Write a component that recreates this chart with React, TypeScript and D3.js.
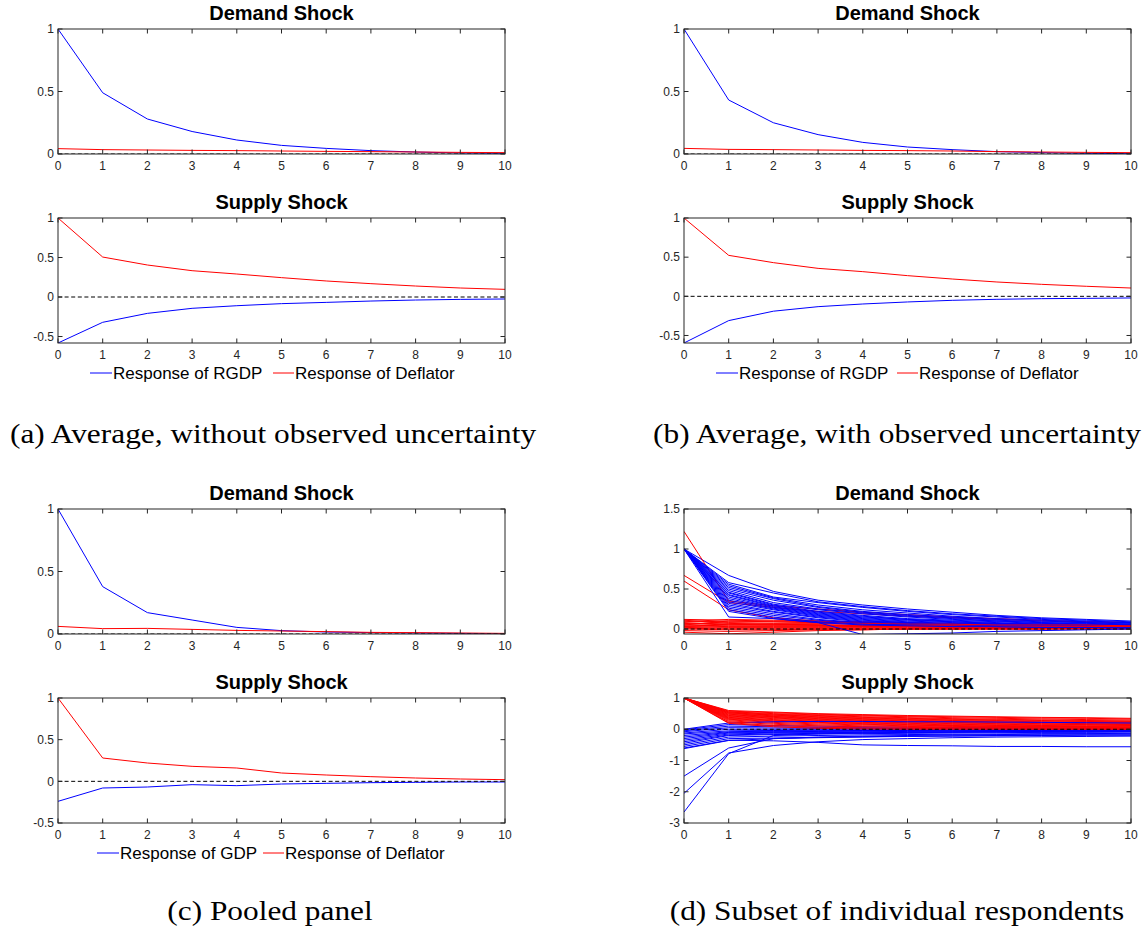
import React from 'react'
import * as d3 from 'd3'

// horizon (quarters after shock)
const horizons = [0, 1, 2, 3, 4, 5, 6, 7, 8, 9, 10]

// (a) average, without observed uncertainty
const avgDemandRgdp = [1, 0.49, 0.28, 0.18, 0.112, 0.069, 0.045, 0.027, 0.016, 0.008, 0.005]
const avgDemandDeflator = [0.043, 0.035, 0.032, 0.029, 0.027, 0.024, 0.021, 0.019, 0.016, 0.013, 0.011]
const avgSupplyRgdp = [-0.582, -0.32, -0.207, -0.143, -0.11, -0.084, -0.068, -0.051, -0.038, -0.03, -0.025]
const avgSupplyDeflator = [1, 0.506, 0.405, 0.333, 0.291, 0.245, 0.203, 0.169, 0.139, 0.114, 0.097]

// (b) average, with observed uncertainty
const uncDemandRgdp = [1, 0.432, 0.25, 0.155, 0.093, 0.056, 0.035, 0.019, 0.011, 0.005, 0.003]
const uncDemandDeflator = [0.045, 0.037, 0.035, 0.032, 0.029, 0.027, 0.024, 0.019, 0.016, 0.013, 0.011]
const uncSupplyRgdp = [-0.596, -0.31, -0.19, -0.132, -0.098, -0.072, -0.051, -0.038, -0.03, -0.026, -0.021]
const uncSupplyDeflator = [1, 0.523, 0.43, 0.357, 0.315, 0.264, 0.221, 0.183, 0.153, 0.128, 0.106]

// (c) pooled panel
const poolDemandGdp = [1, 0.379, 0.171, 0.112, 0.053, 0.027, 0.016, 0.011, 0.008, 0.005, 0.003]
const poolDemandDeflator = [0.061, 0.043, 0.045, 0.037, 0.029, 0.024, 0.019, 0.013, 0.011, 0.008, 0.005]
const poolSupplyGdp = [-0.24, -0.08, -0.068, -0.04, -0.052, -0.032, -0.024, -0.016, -0.012, -0.008, -0.008]
const poolSupplyDeflator = [1, 0.28, 0.22, 0.18, 0.16, 0.1, 0.076, 0.056, 0.04, 0.028, 0.02]

// (d) subset of individual respondents
const indivDemandRgdp = [
  [1, 0.67, 0.47, 0.36, 0.3, 0.25, 0.21, 0.17, 0.14, 0.12, 0.1],
  [1, 0.58, 0.45, 0.34, 0.28, 0.23, 0.19, 0.16, 0.13, 0.11, 0.09],
  [1, 0.56, 0.4, 0.33, 0.27, 0.22, 0.18, 0.15, 0.12, 0.1, 0.08],
  [1, 0.54, 0.39, 0.3, 0.24, 0.2, 0.16, 0.13, 0.11, 0.09, 0.08],
  [1, 0.52, 0.38, 0.28, 0.22, 0.18, 0.15, 0.12, 0.1, 0.08, 0.07],
  [1, 0.5, 0.36, 0.27, 0.21, 0.17, 0.14, 0.11, 0.09, 0.08, 0.06],
  [1, 0.48, 0.33, 0.25, 0.2, 0.16, 0.13, 0.1, 0.08, 0.07, 0.06],
  [1, 0.46, 0.31, 0.24, 0.19, 0.15, 0.12, 0.1, 0.08, 0.06, 0.05],
  [1, 0.45, 0.3, 0.22, 0.17, 0.13, 0.11, 0.09, 0.07, 0.06, 0.05],
  [1, 0.43, 0.29, 0.21, 0.16, 0.12, 0.1, 0.08, 0.06, 0.05, 0.04],
  [1, 0.42, 0.28, 0.2, 0.15, 0.12, 0.09, 0.07, 0.06, 0.05, 0.04],
  [1, 0.4, 0.27, 0.19, 0.14, 0.11, 0.09, 0.07, 0.05, 0.04, 0.03],
  [1, 0.38, 0.26, 0.18, 0.13, 0.1, 0.08, 0.06, 0.05, 0.04, 0.03],
  [1, 0.36, 0.25, 0.17, 0.12, 0.09, 0.07, 0.06, 0.05, 0.04, 0.03],
  [1, 0.34, 0.24, 0.16, 0.11, 0.08, 0.06, 0.05, 0.04, 0.03, 0.03],
  [1, 0.32, 0.22, 0.15, 0.1, 0.08, 0.06, 0.05, 0.04, 0.03, 0.02],
  [1, 0.3, 0.21, 0.14, 0.09, 0.07, 0.05, 0.04, 0.03, 0.03, 0.02],
  [1, 0.28, 0.19, 0.12, 0.08, 0.06, 0.05, 0.04, 0.03, 0.02, 0.02],
  [1, 0.26, 0.17, 0.11, 0.07, 0.05, 0.04, 0.03, 0.03, 0.02, 0.02],
  [1, 0.24, 0.15, 0.09, 0.06, 0.05, 0.04, 0.03, 0.02, 0.02, 0.02],
  [1, 0.22, 0.13, 0.08, 0.05, 0.04, 0.03, 0.03, 0.02, 0.02, 0.01],
  [1, 0.15, 0.13, 0.08, -0.07, -0.06, -0.05, -0.03, -0.02, -0.01, 0],
]
const indivDemandDeflator = [
  [1.22, 0.35, 0.29, 0.25, 0.21, 0.18, 0.15, 0.13, 0.11, 0.09, 0.08],
  [0.67, 0.33, 0.27, 0.22, 0.19, 0.16, 0.14, 0.12, 0.1, 0.09, 0.08],
  [0.6, 0.24, 0.14, 0.1, 0.08, 0.07, 0.06, 0.05, 0.05, 0.04, 0.04],
  [0.12, 0.11, 0.1, 0.09, 0.08, 0.07, 0.07, 0.06, 0.06, 0.05, 0.05],
  [0.1, 0.09, 0.09, 0.08, 0.08, 0.07, 0.06, 0.06, 0.05, 0.05, 0.04],
  [0.09, 0.12, 0.11, 0.1, 0.09, 0.08, 0.07, 0.07, 0.06, 0.06, 0.05],
  [0.08, 0.06, 0.06, 0.05, 0.05, 0.05, 0.04, 0.04, 0.04, 0.04, 0.03],
  [0.07, 0.05, 0.05, 0.05, 0.04, 0.04, 0.04, 0.03, 0.03, 0.03, 0.03],
  [0.06, 0.08, 0.07, 0.07, 0.06, 0.06, 0.05, 0.05, 0.05, 0.04, 0.04],
  [0.05, 0.04, 0.04, 0.04, 0.03, 0.03, 0.03, 0.03, 0.03, 0.02, 0.02],
  [0.04, 0.03, 0.03, 0.03, 0.03, 0.03, 0.02, 0.02, 0.02, 0.02, 0.02],
  [0.03, 0.02, 0.02, 0.02, 0.02, 0.02, 0.02, 0.02, 0.02, 0.02, 0.02],
  [0.02, 0.01, 0.01, 0.01, 0.01, 0.01, 0.01, 0.01, 0.01, 0.01, 0.01],
  [0.01, 0, 0, 0, 0, 0, 0, 0, 0, 0, 0],
  [0, -0.01, -0.01, 0, 0, 0, 0, 0, 0, 0, 0],
  [-0.02, -0.03, -0.02, -0.01, -0.01, 0, 0, 0, 0, 0.01, 0.01],
  [-0.04, -0.06, -0.04, -0.02, -0.01, 0, 0, 0.01, 0.01, 0.01, 0.01],
  [0.11, 0.07, 0.06, 0.05, 0.04, 0.04, 0.03, 0.03, 0.03, 0.03, 0.03],
  [0.05, 0.1, 0.09, 0.08, 0.07, 0.06, 0.06, 0.05, 0.05, 0.05, 0.04],
  [0.03, 0.06, 0.05, 0.05, 0.04, 0.04, 0.04, 0.03, 0.03, 0.03, 0.03],
]
const indivSupplyRgdp = [
  [-0.02, 0.15, 0.12, 0.1, 0.08, 0.07, 0.06, 0.05, 0.04, 0.03, 0.03],
  [-0.05, 0.1, 0.08, 0.06, 0.05, 0.04, 0.04, 0.03, 0.03, 0.02, 0.02],
  [-0.08, 0.05, 0.04, 0.03, 0.03, 0.02, 0.02, 0.02, 0.01, 0.01, 0.01],
  [-0.12, 0, 0, 0, 0, 0, 0, 0, 0, 0, 0],
  [-0.15, -0.05, -0.04, -0.03, -0.03, -0.02, -0.02, -0.02, -0.01, -0.01, -0.01],
  [-0.2, -0.08, -0.06, -0.05, -0.04, -0.04, -0.03, -0.03, -0.02, -0.02, -0.02],
  [-0.25, -0.1, -0.08, -0.07, -0.06, -0.05, -0.05, -0.04, -0.04, -0.03, -0.03],
  [-0.3, -0.12, -0.1, -0.09, -0.08, -0.07, -0.06, -0.06, -0.05, -0.05, -0.05],
  [-0.35, -0.15, -0.12, -0.11, -0.1, -0.09, -0.08, -0.07, -0.07, -0.06, -0.06],
  [-0.4, -0.18, -0.15, -0.13, -0.12, -0.11, -0.1, -0.09, -0.09, -0.08, -0.08],
  [-0.45, -0.2, -0.17, -0.15, -0.14, -0.13, -0.12, -0.11, -0.1, -0.1, -0.09],
  [-0.5, -0.25, -0.22, -0.2, -0.18, -0.17, -0.16, -0.15, -0.14, -0.14, -0.13],
  [-0.55, -0.3, -0.28, -0.26, -0.24, -0.22, -0.21, -0.2, -0.19, -0.18, -0.18],
  [-0.6, -0.35, -0.37, -0.42, -0.5, -0.52, -0.53, -0.55, -0.55, -0.56, -0.56],
  [-0.62, -0.36, -0.3, -0.27, -0.25, -0.23, -0.22, -0.21, -0.2, -0.19, -0.19],
  [-1.5, -0.6, -0.3, -0.25, -0.22, -0.2, -0.18, -0.17, -0.16, -0.15, -0.15],
  [-2.05, -0.76, -0.52, -0.4, -0.33, -0.3, -0.27, -0.25, -0.24, -0.23, -0.22],
  [-2.65, -0.78, -0.2, -0.15, -0.12, -0.1, -0.09, -0.08, -0.07, -0.06, -0.06],
  [0, 0.2, 0.24, 0.25, 0.25, 0.24, 0.24, 0.23, 0.22, 0.21, 0.2],
]
const indivSupplyDeflator = [
  [1, 0.6, 0.55, 0.5, 0.47, 0.44, 0.42, 0.4, 0.38, 0.37, 0.35],
  [1, 0.58, 0.53, 0.48, 0.45, 0.42, 0.4, 0.38, 0.36, 0.35, 0.33],
  [1, 0.56, 0.5, 0.46, 0.43, 0.4, 0.37, 0.35, 0.33, 0.31, 0.3],
  [1, 0.55, 0.48, 0.44, 0.4, 0.37, 0.34, 0.32, 0.3, 0.28, 0.27],
  [1, 0.53, 0.46, 0.42, 0.38, 0.35, 0.32, 0.3, 0.28, 0.26, 0.25],
  [1, 0.52, 0.45, 0.4, 0.36, 0.33, 0.3, 0.28, 0.26, 0.25, 0.23],
  [1, 0.5, 0.43, 0.38, 0.34, 0.31, 0.28, 0.26, 0.24, 0.22, 0.21],
  [1, 0.48, 0.41, 0.36, 0.32, 0.29, 0.26, 0.24, 0.22, 0.2, 0.19],
  [1, 0.46, 0.4, 0.34, 0.3, 0.27, 0.24, 0.22, 0.2, 0.18, 0.17],
  [1, 0.44, 0.38, 0.32, 0.28, 0.25, 0.22, 0.2, 0.18, 0.16, 0.15],
  [1, 0.42, 0.36, 0.3, 0.26, 0.23, 0.2, 0.18, 0.16, 0.15, 0.13],
  [1, 0.4, 0.34, 0.28, 0.24, 0.21, 0.18, 0.16, 0.14, 0.13, 0.12],
  [1, 0.38, 0.31, 0.26, 0.22, 0.19, 0.16, 0.14, 0.12, 0.11, 0.1],
  [1, 0.36, 0.29, 0.24, 0.2, 0.17, 0.14, 0.12, 0.11, 0.09, 0.08],
  [1, 0.34, 0.27, 0.22, 0.18, 0.15, 0.12, 0.1, 0.09, 0.08, 0.07],
  [1, 0.32, 0.25, 0.2, 0.16, 0.13, 0.11, 0.09, 0.08, 0.07, 0.06],
  [1, 0.3, 0.22, 0.17, 0.14, 0.11, 0.09, 0.08, 0.07, 0.06, 0.05],
  [1, 0.27, 0.19, 0.14, 0.11, 0.09, 0.07, 0.06, 0.05, 0.04, 0.04],
  [1, 0.24, 0.16, 0.11, 0.08, 0.06, 0.05, 0.04, 0.03, 0.03, 0.02],
  [1, 0.21, 0.12, 0.07, 0.04, 0.03, 0.02, 0.02, 0.01, 0.01, 0.01],
  [1, 0.19, 0.08, 0.03, 0.01, 0, 0, 0, 0, 0, 0],
]

const xTicks = horizons
const axisColor = '#262626'
const sans = '"Liberation Sans", Arial, Helvetica, sans-serif'
const serif = '"Liberation Serif", "Times New Roman", serif'

type PanelProps = {
  id: string
  left: number
  top: number
  title: string
  yDomain: [number, number]
  yTicks: number[]
  blue: number[][]
  red: number[][]
}

const PW = 447
const PH = 125

const Panel = ({ id, left, top, title, yDomain, yTicks, blue, red }: PanelProps) => {
  const x = d3.scaleLinear().domain([0, 10]).range([left, left + PW])
  const y = d3.scaleLinear().domain(yDomain).range([top + PH, top])
  const line = d3.line<number>()
    .x((d, i) => x(horizons[i]))
    .y(d => y(d))
  const n = Math.max(blue.length, red.length)
  const pairs = d3.range(n)
  const tl = 4.5
  return (
    <g>
      <defs>
        <clipPath id={id}>
          <rect x={left} y={top} width={PW} height={PH} />
        </clipPath>
      </defs>
      <g clipPath={`url(#${id})`} fill="none" strokeWidth={1}>
        {pairs.map(i => (
          <g key={i}>
            {blue[i] && <path d={line(blue[i]) || ''} stroke="#0000ff" />}
            {red[i] && <path d={line(red[i]) || ''} stroke="#ff0000" />}
          </g>
        ))}
        <line x1={x(0)} x2={x(10)} y1={y(0)} y2={y(0)} stroke="#000" strokeDasharray="4,2.6" />
      </g>
      {/* box + ticks */}
      <rect x={left} y={top} width={PW} height={PH} fill="none" stroke={axisColor} strokeWidth={1} />
      {xTicks.map(t => (
        <g key={'x' + t}>
          <line x1={x(t)} x2={x(t)} y1={top + PH} y2={top + PH - tl} stroke={axisColor} />
          <line x1={x(t)} x2={x(t)} y1={top} y2={top + tl} stroke={axisColor} />
          <text x={x(t)} y={top + PH + 16} textAnchor="middle" fontFamily={sans} fontSize={12} fill={axisColor}>{t}</text>
        </g>
      ))}
      {yTicks.map(t => (
        <g key={'y' + t}>
          <line x1={left} x2={left + tl} y1={y(t)} y2={y(t)} stroke={axisColor} />
          <line x1={left + PW} x2={left + PW - tl} y1={y(t)} y2={y(t)} stroke={axisColor} />
          <text x={left - 4} y={y(t)} dy="0.35em" textAnchor="end" fontFamily={sans} fontSize={12} fill={axisColor}>{String(t)}</text>
        </g>
      ))}
      <text x={left + PW / 2} y={top - 9} textAnchor="middle" fontFamily={sans} fontWeight="bold" fontSize={20} fill="#000">{title}</text>
    </g>
  )
}

const Legend = ({ x0, y0, gdpLabel, gap }: { x0: number; y0: number; gdpLabel: string; gap: number }) => (
  <g fontFamily={sans} fontSize={17} fill="#000">
    <line x1={x0} x2={x0 + 22} y1={y0} y2={y0} stroke="#0000ff" />
    <text x={x0 + 23} y={y0} dy="0.35em">{gdpLabel}</text>
    <line x1={x0 + gap} x2={x0 + gap + 21} y1={y0} y2={y0} stroke="#ff0000" />
    <text x={x0 + gap + 22} y={y0} dy="0.35em">Response of Deflator</text>
  </g>
)

// captions are set in a wide Computer Modern style, so Times is stretched a little
const Caption = ({ cx, y, text }: { cx: number; y: number; text: string }) => (
  <text transform={`translate(${cx},${y}) scale(1.12,1)`} textAnchor="middle" fontFamily={serif} fontSize={28} fill="#000">{text}</text>
)

const L = 58
const R = 684

export default function App() {
  return (
    <svg width={1148} height={930} style={{ position: 'absolute', left: 0, top: 0, background: '#fff' }}>
      <Panel id="a1" left={L} top={29} title="Demand Shock" yDomain={[0, 1]} yTicks={[0, 0.5, 1]}
        blue={[avgDemandRgdp]} red={[avgDemandDeflator]} />
      <Panel id="a2" left={L} top={218} title="Supply Shock" yDomain={[-0.582, 1]} yTicks={[-0.5, 0, 0.5, 1]}
        blue={[avgSupplyRgdp]} red={[avgSupplyDeflator]} />
      <Legend x0={90} y0={373} gdpLabel="Response of RGDP" gap={183} />
      <Caption cx={273} y={443} text="(a) Average, without observed uncertainty" />

      <Panel id="b1" left={R} top={29} title="Demand Shock" yDomain={[0, 1]} yTicks={[0, 0.5, 1]}
        blue={[uncDemandRgdp]} red={[uncDemandDeflator]} />
      <Panel id="b2" left={R} top={218} title="Supply Shock" yDomain={[-0.596, 1]} yTicks={[-0.5, 0, 0.5, 1]}
        blue={[uncSupplyRgdp]} red={[uncSupplyDeflator]} />
      <Legend x0={716} y0={373} gdpLabel="Response of RGDP" gap={181} />
      <Caption cx={897} y={443} text="(b) Average, with observed uncertainty" />

      <Panel id="c1" left={L} top={509} title="Demand Shock" yDomain={[0, 1]} yTicks={[0, 0.5, 1]}
        blue={[poolDemandGdp]} red={[poolDemandDeflator]} />
      <Panel id="c2" left={L} top={698} title="Supply Shock" yDomain={[-0.5, 1]} yTicks={[-0.5, 0, 0.5, 1]}
        blue={[poolSupplyGdp]} red={[poolSupplyDeflator]} />
      <Legend x0={97} y0={853} gdpLabel="Response of GDP" gap={166} />
      <Caption cx={270} y={920} text="(c) Pooled panel" />

      <Panel id="d1" left={R} top={509} title="Demand Shock" yDomain={[-0.0625, 1.5]} yTicks={[0, 0.5, 1, 1.5]}
        blue={indivDemandRgdp} red={indivDemandDeflator} />
      <Panel id="d2" left={R} top={698} title="Supply Shock" yDomain={[-3, 1]} yTicks={[-3, -2, -1, 0, 1]}
        blue={indivSupplyRgdp} red={indivSupplyDeflator} />
      <Caption cx={897} y={920} text="(d) Subset of individual respondents" />
    </svg>
  )
}
